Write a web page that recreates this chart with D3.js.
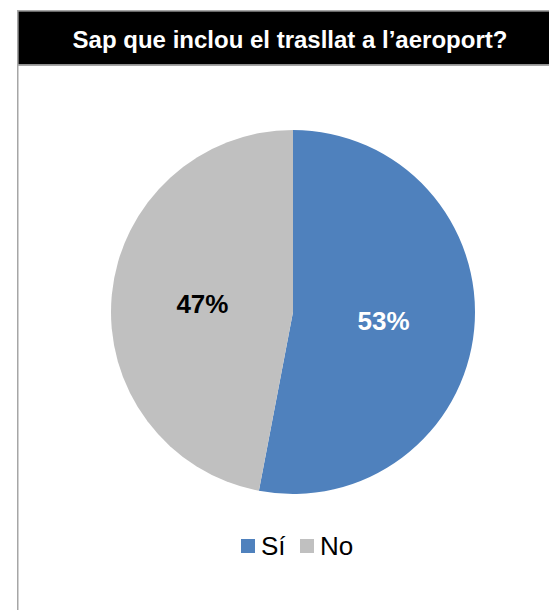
<!DOCTYPE html>
<html>
<head>
<meta charset="utf-8">
<script src="https://cdn.jsdelivr.net/npm/d3@7"></script>
<style>
  html, body { margin: 0; padding: 0; background: #fff; }
  svg { display: block; font-family: "Liberation Sans", Arial, sans-serif; }
</style>
</head>
<body>
<svg id="chart" width="549" height="610"></svg>
<script>
// Survey answers: share of respondents (percent)
const categories = ["Sí", "No"];
const values = [53, 47];
const colors = ["#4f81bd", "#c0c0c0"];
const labelColors = ["#ffffff", "#000000"];
const title = "Sap que inclou el trasllat a l\u2019aeroport?";

const svg = d3.select("#chart");

// Framed panel (continues past the right and bottom edges)
svg.append("rect")
  .attr("x", 17.75).attr("y", 10.75)
  .attr("width", 700).attr("height", 700)
  .attr("fill", "#fff")
  .attr("stroke", "#a6a6a6").attr("stroke-width", 1.5);

// Title band
svg.append("rect")
  .attr("x", 18.5).attr("y", 11.5)
  .attr("width", 600).attr("height", 53)
  .attr("fill", "#000");
svg.append("line")
  .attr("x1", 18).attr("x2", 549)
  .attr("y1", 65.25).attr("y2", 65.25)
  .attr("stroke", "#a6a6a6").attr("stroke-width", 1.5);
svg.append("text")
  .attr("x", 290).attr("y", 48)
  .attr("text-anchor", "middle")
  .attr("fill", "#fff")
  .attr("font-weight", "bold")
  .attr("font-size", 24)
  .text(title);

// Pie
const cx = 293, cy = 312, radius = 182;
const pie = d3.pie().sort(null).value(d => d);
const arcs = pie(values);
const arc = d3.arc().innerRadius(0).outerRadius(radius);

const g = svg.append("g").attr("transform", `translate(${cx},${cy})`);
g.selectAll("path")
  .data(arcs)
  .join("path")
  .attr("d", arc)
  .attr("fill", (d, i) => colors[i]);

g.selectAll("text")
  .data(arcs)
  .join("text")
  .attr("transform", d => `translate(${arc.centroid(d)})`)
  .attr("text-anchor", "middle")
  .attr("dy", "0.36em")
  .attr("font-weight", "bold")
  .attr("font-size", 26)
  .attr("fill", (d, i) => labelColors[i])
  .text(d => d.data + "%");

// Legend
const legend = svg.append("g").attr("transform", "translate(241,539)");
const offsets = [0, 59];
const items = legend.selectAll("g")
  .data(categories)
  .join("g")
  .attr("transform", (d, i) => `translate(${offsets[i]},0)`);
items.append("rect")
  .attr("width", 14).attr("height", 14)
  .attr("fill", (d, i) => colors[i]);
items.append("text")
  .attr("x", 20).attr("y", 16)
  .attr("font-size", 26)
  .attr("fill", "#000")
  .text(d => d);
</script>
</body>
</html>
